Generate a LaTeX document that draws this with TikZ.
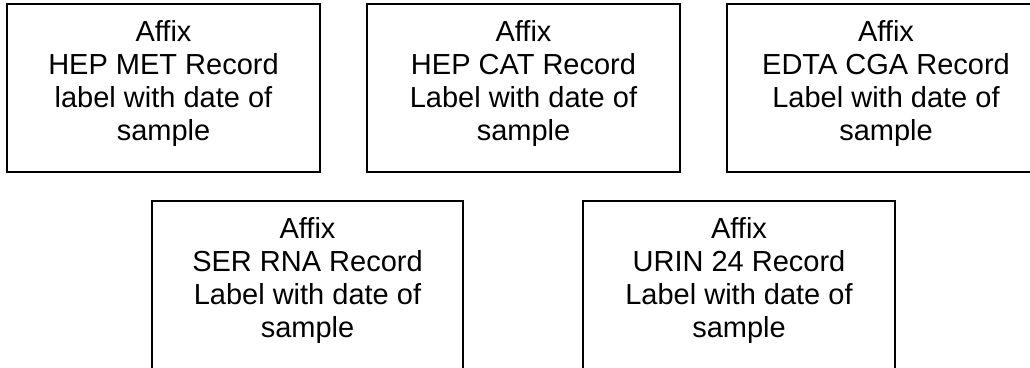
\documentclass[tikz,border=0pt]{standalone}
\usepackage{fontspec}
\setmainfont{Liberation Sans}

\begin{document}
\begin{tikzpicture}[x=1pt,y=-1pt,
	record/.style={rectangle, draw, line width=1.4pt, minimum width=313pt, minimum height=168pt,
		align=center, text depth=16pt, font=\fontsize{29}{33}\selectfont}]
	\useasboundingbox (0,0) rectangle (1030,367);
	\clip (0,0) rectangle (1030,367);

	\node at (163.5,88) [record] (hepmet) {Affix\\HEP MET Record\\label with date of\\sample};
	\node at (523.5,88) [record] (hepcat) {Affix\\HEP CAT Record\\Label with date of\\sample};
	\node at (886,88) [record, minimum width=318pt] (edta) {Affix\\EDTA CGA Record\\Label with date of\\sample};

	\node at (307.5,285) [record, minimum width=311pt] (serrna) {Affix\\SER RNA Record\\Label with date of\\sample};
	\node at (739,285) [record, minimum width=312pt] (urin) {Affix\\URIN 24 Record\\Label with date of\\sample};

\end{tikzpicture}
\end{document}
